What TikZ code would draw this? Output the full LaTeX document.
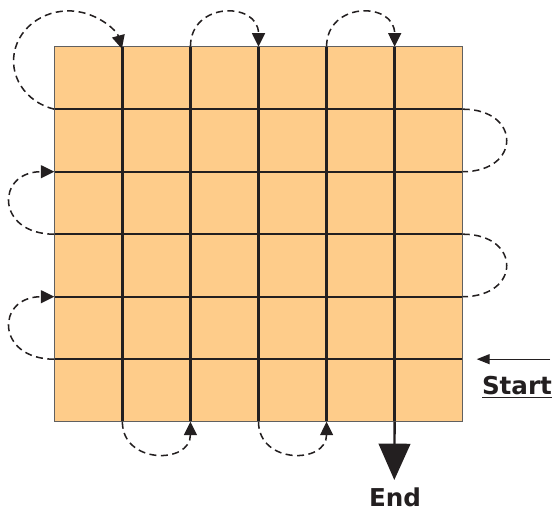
\documentclass[tikz,border=0pt]{standalone}
\usepackage{fontspec}
\setmainfont{DejaVu Sans}
\usetikzlibrary{arrows.meta}
\definecolor{cellfill}{RGB}{254,204,138}
\definecolor{ink}{RGB}{35,31,32}
\tikzset{
  gridrule/.style={ink,line width=2pt},
  loopline/.style={ink,line width=1.3pt,dash pattern=on 6pt off 3.8pt},
  looptip/.style={-{Triangle[length=11.5pt,width=11pt]}},
  tagtext/.style={font=\fontsize{21}{25}\selectfont\bfseries,text=ink,inner sep=0pt,anchor=base}
}
\begin{document}
\begin{tikzpicture}[x=.03cm,y=.03cm]
    \useasboundingbox (0,0) rectangle (554,511);
    \foreach \i in {0,...,6}
        \foreach \j in {0,...,6}
            \coordinate (g-\i-\j) at ({54.3+68.07*\i},{89.3+62.5*\j});
    \coordinate (endtip) at (394.3,31);
    \coordinate (startfrom) at (550,151.8);
    \coordinate (starttip) at (476.7,151.8);
    \fill [cellfill] (g-0-0) rectangle (g-6-6);
    \foreach \j in {1,...,5} \draw [gridrule] (g-0-\j) -- (g-6-\j);
    \foreach \i in {1,...,5} \draw [gridrule] (g-\i-0) -- (g-\i-6);
    \draw [gray!75!black,line width=.8pt] (g-0-0) rectangle (g-6-6);
    \draw [gridrule,-{Triangle[length=31pt,width=27pt]}] (g-5-0) -- (endtip);
    \draw [ink,line width=1pt,-{Triangle[length=11pt,width=8.5pt]}] (startfrom) -- (starttip);
    \draw [loopline,looptip] (g-0-5) arc [start angle=255,end angle=14,x radius=55,y radius=50];
    \draw [loopline,looptip] (g-2-6) .. controls +(0,45.4) and +(0,45.4) .. (g-3-6);
    \draw [loopline,looptip] (g-4-6) .. controls +(0,45.4) and +(0,45.4) .. (g-5-6);
    \draw [loopline] (g-6-5) .. controls +(58.7,0) and +(58.7,0) .. (g-6-4);
    \draw [loopline] (g-6-3) .. controls +(58.7,0) and +(58.7,0) .. (g-6-2);
    \draw [loopline,looptip] (g-0-3) .. controls +(-58.7,0) and +(-58.7,0) .. (g-0-4);
    \draw [loopline,looptip] (g-0-1) .. controls +(-58.7,0) and +(-58.7,0) .. (g-0-2);
    \draw [loopline,looptip] (g-1-0) .. controls +(0,-42.7) and +(0,-42.7) .. (g-2-0);
    \draw [loopline,looptip] (g-3-0) .. controls +(0,-42.7) and +(0,-42.7) .. (g-4-0);
    \node [tagtext] (start) at (517,116) {\underline{Start}};
    \node [tagtext] (end) at (395,4.5) {End};
\end{tikzpicture}
\end{document}
